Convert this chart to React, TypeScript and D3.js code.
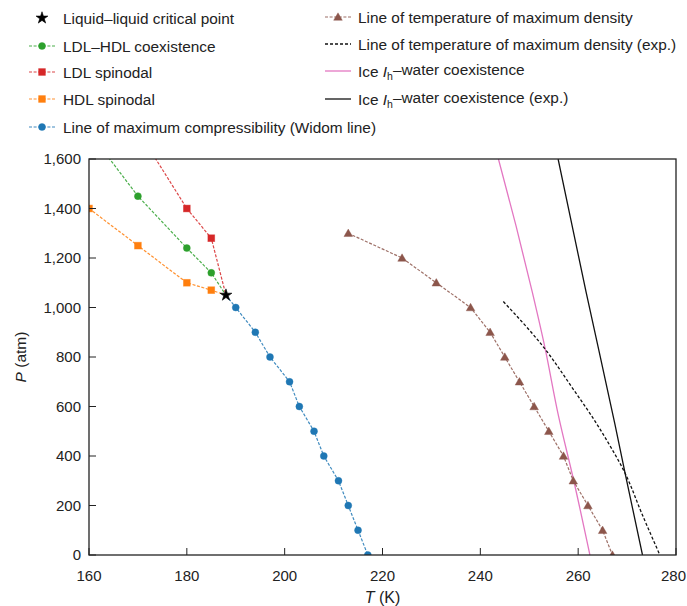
import React, { useEffect, useRef } from "react";
import * as d3 from "d3";

type Pt = [number, number];

// T (K), P (atm)
const criticalPoint: Pt[] = [[188, 1050]];
const coexistence: Pt[] = [[160, 1710], [170, 1450], [180, 1240], [185, 1140]];
const ldlSpinodal: Pt[] = [[170, 1715], [180, 1400], [185, 1280]];
const hdlSpinodal: Pt[] = [[160, 1400], [170, 1250], [180, 1100], [185, 1070]];
const widomLine: Pt[] = [
  [190, 1000], [194, 900], [197, 800], [201, 700], [203, 600], [206, 500],
  [208, 400], [211, 300], [213, 200], [215, 100], [217, 0],
];
const tmdLine: Pt[] = [
  [213, 1300], [224, 1200], [231, 1100], [238, 1000], [242, 900], [245, 800],
  [248, 700], [251, 600], [254, 500], [257, 400], [259, 300], [262, 200],
  [265, 100], [267, 0],
];
const tmdExp: Pt[] = [
  [244.7, 1024], [252.6, 848], [259.1, 667], [263.3, 545], [265.8, 465],
  [269.6, 330], [273.0, 168], [276.7, 0],
];
const iceWater: Pt[] = [
  [243.7, 1600], [247.3, 1330], [250.6, 1064], [253.1, 848], [256.0, 560],
  [259.1, 300], [262.4, 0],
];
const iceWaterExp: Pt[] = [
  [255.9, 1600], [261.6, 1064], [267.5, 530], [269.6, 330], [273.15, 0],
];

const xTicks = [160, 180, 200, 220, 240, 260, 280];
const yTicks = [0, 200, 400, 600, 800, 1000, 1200, 1400, 1600];

const width = 687;
const height = 606;
const plot = { left: 89, right: 676, top: 159, bottom: 555 };
const font = "'Liberation Sans', Arial, sans-serif";

const colors = {
  green: "#2ca02c",
  red: "#d62728",
  orange: "#ff7f0e",
  blue: "#1f77b4",
  brown: "#8c564b",
  pink: "#e377c2",
};

type Marker = "circle" | "square" | "triangle" | "star" | null;

const drawMarker = (
  g: d3.Selection<SVGGElement, unknown, null, undefined>,
  kind: Marker,
  x: number,
  y: number,
  color: string,
) => {
  if (kind === "circle") {
    g.append("circle").attr("cx", x).attr("cy", y).attr("r", 3.5)
      .attr("fill", color).attr("stroke", color).attr("stroke-opacity", 0.5).attr("stroke-width", 0.8);
  } else if (kind === "square") {
    g.append("rect").attr("x", x - 3.4).attr("y", y - 3.4).attr("width", 6.8).attr("height", 6.8)
      .attr("fill", color).attr("stroke", color).attr("stroke-opacity", 0.5).attr("stroke-width", 0.8);
  } else if (kind === "triangle") {
    g.append("path")
      .attr("d", d3.symbol().type(d3.symbolTriangle).size(32)())
      .attr("transform", `translate(${x},${y + 0.8})`)
      .attr("fill", color).attr("stroke", color).attr("stroke-opacity", 0.5).attr("stroke-width", 0.8);
  } else if (kind === "star") {
    g.append("path")
      .attr("d", d3.symbol().type(d3.symbolStar).size(44)())
      .attr("transform", `translate(${x},${y})`)
      .attr("fill", "#000").attr("stroke", "#000").attr("stroke-width", 0.6);
  }
};

const PhaseDiagram = () => {
  const ref = useRef<SVGSVGElement>(null);

  useEffect(() => {
    document.body.style.margin = "0";
    const svg = d3.select(ref.current);
    svg.selectAll("*").remove();

    const x = d3.scaleLinear().domain([160, 280]).range([plot.left, plot.right]);
    const y = d3.scaleLinear().domain([0, 1600]).range([plot.bottom, plot.top]);

    svg.append("defs").append("clipPath").attr("id", "plot-clip")
      .append("rect")
      .attr("x", plot.left).attr("y", plot.top)
      .attr("width", plot.right - plot.left).attr("height", plot.bottom - plot.top);

    const line = d3.line<Pt>().x((d) => x(d[0])).y((d) => y(d[1]));
    const curve = d3.line<Pt>().x((d) => x(d[0])).y((d) => y(d[1])).curve(d3.curveMonotoneY);

    const body = svg.append("g").attr("clip-path", "url(#plot-clip)");

    const series: {
      data: Pt[];
      toCritical: "end" | "start" | null;
      color: string;
      marker: Marker;
      dash: string | null;
      smooth?: boolean;
    }[] = [
      { data: iceWater, toCritical: null, color: colors.pink, marker: null, dash: null, smooth: true },
      { data: iceWaterExp, toCritical: null, color: "#111", marker: null, dash: null, smooth: true },
      { data: tmdExp, toCritical: null, color: "#111", marker: null, dash: "3,2", smooth: true },
      { data: tmdLine, toCritical: null, color: colors.brown, marker: "triangle", dash: "3,1.6" },
      { data: coexistence, toCritical: "end", color: colors.green, marker: "circle", dash: "3,1.6" },
      { data: ldlSpinodal, toCritical: "end", color: colors.red, marker: "square", dash: "3,1.6" },
      { data: hdlSpinodal, toCritical: "end", color: colors.orange, marker: "square", dash: "3,1.6" },
      { data: widomLine, toCritical: "start", color: colors.blue, marker: "circle", dash: "3,1.6" },
    ];

    series.forEach((s) => {
      const pts =
        s.toCritical === "end"
          ? [...s.data, criticalPoint[0]]
          : s.toCritical === "start"
            ? [criticalPoint[0], ...s.data]
            : s.data;
      body.append("path")
        .attr("d", (s.smooth ? curve : line)(pts))
        .attr("fill", "none")
        .attr("stroke", s.color)
        .attr("stroke-width", s.marker ? 1.2 : 1.3)
        .attr("stroke-opacity", s.marker ? 0.85 : 1)
        .attr("stroke-dasharray", s.dash ?? null);
    });

    series.forEach((s) => {
      if (!s.marker) return;
      s.data.forEach((d) => drawMarker(body, s.marker, x(d[0]), y(d[1]), s.color));
    });
    criticalPoint.forEach((d) => drawMarker(body, "star", x(d[0]), y(d[1]), "#000"));

    // frame
    svg.append("rect")
      .attr("x", plot.left).attr("y", plot.top)
      .attr("width", plot.right - plot.left).attr("height", plot.bottom - plot.top)
      .attr("fill", "none").attr("stroke", "#222").attr("stroke-width", 1.3);

    const axes = svg.append("g").attr("font-family", font).attr("font-size", 15).attr("fill", "#222");

    xTicks.forEach((t) => {
      axes.append("line")
        .attr("x1", x(t)).attr("x2", x(t))
        .attr("y1", plot.bottom).attr("y2", plot.bottom - 7)
        .attr("stroke", "#222").attr("stroke-width", 1);
      const label = axes.append("text")
        .attr("x", x(t)).attr("y", plot.bottom + 25.5)
        .attr("text-anchor", "middle")
        .text(d3.format(",")(t));
      // keep the last label inside the page
      const w = (label.node() as SVGTextElement).getComputedTextLength();
      if (x(t) + w / 2 > width - 1) label.attr("x", width - 1 - w / 2);
    });

    yTicks.forEach((t) => {
      axes.append("line")
        .attr("x1", plot.left).attr("x2", plot.left + 7)
        .attr("y1", y(t)).attr("y2", y(t))
        .attr("stroke", "#222").attr("stroke-width", 1);
      axes.append("text")
        .attr("x", plot.left - 8).attr("y", y(t))
        .attr("dy", "0.36em")
        .attr("text-anchor", "end")
        .text(d3.format(",")(t));
    });

    const xLabel = axes.append("text")
      .attr("x", (plot.left + plot.right) / 2).attr("y", 603)
      .attr("text-anchor", "middle").attr("font-size", 16);
    xLabel.append("tspan").attr("font-style", "italic").text("T");
    xLabel.append("tspan").text(" (K)");

    const yLabel = axes.append("text")
      .attr("transform", `translate(26, ${(plot.top + plot.bottom) / 2}) rotate(-90)`)
      .attr("text-anchor", "middle").attr("font-size", 15.5);
    yLabel.append("tspan").attr("font-style", "italic").text("P");
    yLabel.append("tspan").text(" (atm)");

    // legend
    const legend = svg.append("g").attr("font-family", font).attr("font-size", 15.4).attr("fill", "#222");

    const leftItems: { label: string; color: string; marker: Marker; dash: string | null }[] = [
      { label: "Liquid–liquid critical point", color: "#000", marker: "star", dash: "none" },
      { label: "LDL–HDL coexistence", color: colors.green, marker: "circle", dash: "3,1.6" },
      { label: "LDL spinodal", color: colors.red, marker: "square", dash: "3,1.6" },
      { label: "HDL spinodal", color: colors.orange, marker: "square", dash: "3,1.6" },
      { label: "Line of maximum compressibility (Widom line)", color: colors.blue, marker: "circle", dash: "3,1.6" },
    ];
    const leftRows = [18, 46, 72, 99, 127];

    leftItems.forEach((item, i) => {
      const g = legend.append("g");
      const yy = leftRows[i];
      if (item.dash !== "none") {
        g.append("line").attr("x1", 29).attr("x2", 55).attr("y1", yy).attr("y2", yy)
          .attr("stroke", item.color).attr("stroke-width", 1.2).attr("stroke-opacity", 0.85)
          .attr("stroke-dasharray", item.dash);
      }
      drawMarker(g, item.marker, 42, yy, item.color);
      g.append("text").attr("x", 63).attr("y", yy).attr("dy", "0.36em").text(item.label);
    });

    const rightRows = [17, 44, 71, 99];
    const rightItems: { color: string; marker: Marker; dash: string | null; width: number }[] = [
      { color: colors.brown, marker: "triangle", dash: "3,1.6", width: 1.2 },
      { color: "#111", marker: null, dash: "3,2", width: 1.3 },
      { color: colors.pink, marker: null, dash: null, width: 1.3 },
      { color: "#111", marker: null, dash: null, width: 1.3 },
    ];
    rightItems.forEach((item, i) => {
      const g = legend.append("g");
      const yy = rightRows[i];
      g.append("line").attr("x1", 325).attr("x2", 351).attr("y1", yy).attr("y2", yy)
        .attr("stroke", item.color).attr("stroke-width", item.width)
        .attr("stroke-opacity", item.marker ? 0.85 : 1)
        .attr("stroke-dasharray", item.dash);
      drawMarker(g, item.marker, 338, yy, item.color);
      const text = g.append("text").attr("x", 358).attr("y", yy).attr("dy", "0.36em");
      if (i === 0) text.text("Line of temperature of maximum density");
      else if (i === 1) text.text("Line of temperature of maximum density (exp.)");
      else {
        text.append("tspan").text("Ice ");
        text.append("tspan").attr("font-style", "italic").text("I");
        text.append("tspan").attr("font-size", 10.5).attr("dy", "0.36em").text("h");
        text.append("tspan").attr("dy", "-0.36em").text(i === 2 ? "–water coexistence" : "–water coexistence (exp.)");
      }
    });
  }, []);

  return <svg ref={ref} width={width} height={height} style={{ display: "block" }} />;
};

export default function App() {
  return <PhaseDiagram />;
}
